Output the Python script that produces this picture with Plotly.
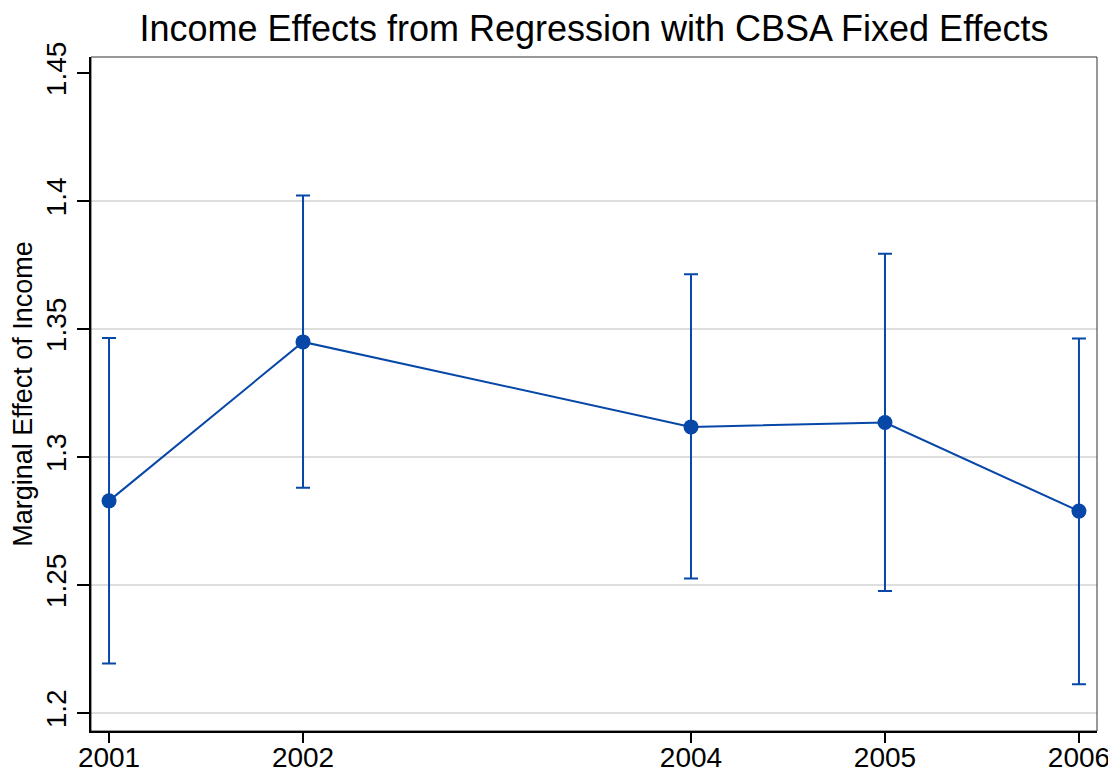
import plotly.graph_objects as go

# values
years = [2001, 2002, 2004, 2005, 2006]
effect = [1.2829, 1.3450, 1.3118, 1.3135, 1.2789]
ci_low = [1.2194, 1.2880, 1.2526, 1.2477, 1.2113]
ci_high = [1.3465, 1.4022, 1.3714, 1.3794, 1.3463]

y_ticks = [1.2, 1.25, 1.3, 1.35, 1.4, 1.45]
y_ticktext = ["1.2", "1.25", "1.3", "1.35", "1.4", "1.45"]
grid_vals = [1.2, 1.25, 1.3, 1.35, 1.4]

blue = "#0647A8"
font = "Liberation Sans, Arial, Helvetica, sans-serif"

err_up = [h - e for h, e in zip(ci_high, effect)]
err_down = [e - l for e, l in zip(effect, ci_low)]

fig = go.Figure()
fig.add_trace(go.Scatter(
    x=years, y=effect,
    mode="lines+markers",
    line=dict(color=blue, width=2),
    marker=dict(color=blue, size=15),
    error_y=dict(type="data", symmetric=False, array=err_up, arrayminus=err_down,
                 color=blue, thickness=2, width=7),
    showlegend=False,
))

# grid lines (no grid at the top tick, as in the reference)
for g in grid_vals:
    fig.add_shape(type="line", xref="paper", x0=0, x1=1, yref="y", y0=g, y1=g,
                  line=dict(color="#dedede", width=2), layer="below")

# thin frame around the plot region
fig.add_shape(type="rect", xref="paper", yref="paper", x0=0, x1=1, y0=0, y1=1,
              line=dict(color="#333333", width=1), layer="below")

# page body has an 8px margin, so the figure is 8px smaller than the window
fig.update_layout(
    width=1108, height=766,
    margin=dict(l=83, r=19, t=49, b=43, autoexpand=False),
    paper_bgcolor="white", plot_bgcolor="white",
    font=dict(family=font, color="black", size=28),
    title=dict(text="Income Effects from Regression with CBSA Fixed Effects",
               x=0.5, xref="paper", xanchor="center", y=0.974, yanchor="middle",
               font=dict(size=36, family=font, color="black")),
    xaxis=dict(range=[2000.907, 2006.093], tickvals=years, automargin=False,
               showgrid=False, zeroline=False,
               showline=True, linecolor="black", linewidth=2,
               ticks="outside", ticklen=10, tickwidth=1.5, tickcolor="black",
               ticklabelstandoff=-10,
               tickfont=dict(size=28)),
    yaxis=dict(range=[1.193, 1.4563], tickvals=y_ticks, ticktext=y_ticktext,
               tickangle=-90, showgrid=False, zeroline=False, automargin=False,
               showline=True, linecolor="black", linewidth=2,
               ticks="outside", ticklen=12, tickwidth=1.5, tickcolor="black",
               tickfont=dict(size=28),
               title=dict(text="Marginal Effect of Income", font=dict(size=27),
                          standoff=0)),
)

fig.write_html("out.html")
